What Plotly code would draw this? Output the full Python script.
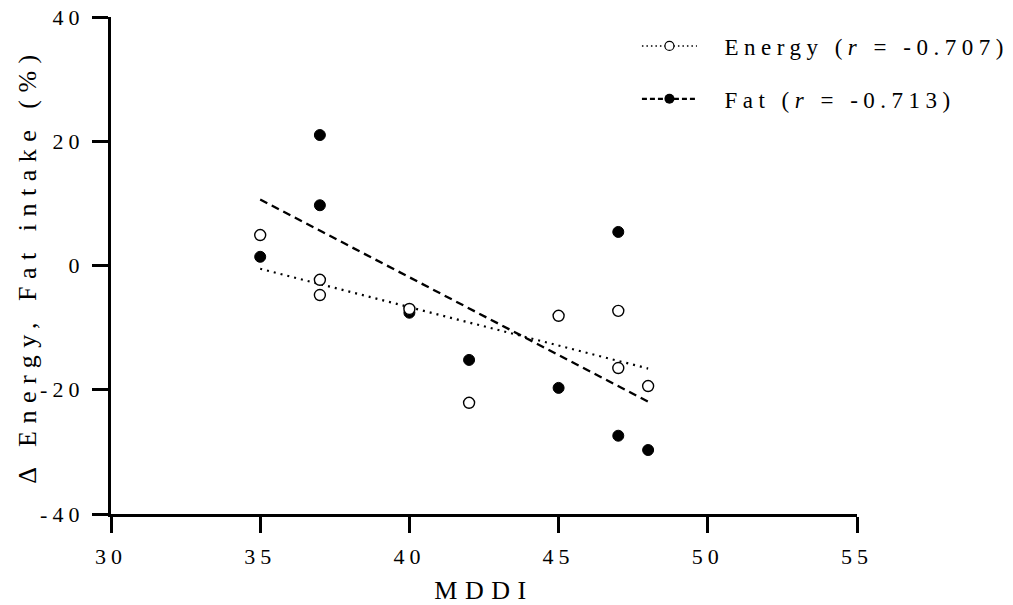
import numpy as np
import plotly.graph_objects as go

# Data
mddi_energy = [35, 37, 37, 40, 42, 45, 47, 47, 48]
energy_change = [4.9, -2.3, -4.75, -7.0, -22.1, -8.1, -7.3, -16.5, -19.4]
mddi_fat = [35, 37, 37, 40, 42, 45, 47, 47, 48]
fat_change = [1.4, 21.0, 9.7, -7.6, -15.2, -19.7, 5.4, -27.4, -29.7]
energy_label = "\u00a0\u00a0Energy (<i>r</i> = -0.707)"
fat_label = "\u00a0\u00a0Fat (<i>r</i> = -0.713)"
x_ticks = [30, 35, 40, 45, 50, 55]
x_tick_text = ["30", "35", "40", "45", "50", "55"]
y_ticks = [-40, -20, 0, 20, 40]
y_tick_text = ["-40", "-20", "0", "20", "40"]

FONT = "Liberation Serif"

def fit_line(x, y):
    x = np.asarray(x, float)
    y = np.asarray(y, float)
    m, b = np.polyfit(x, y, 1)
    xs = np.array([x.min(), x.max()])
    return xs, m * xs + b

fig = go.Figure()

ex, ey = fit_line(mddi_energy, energy_change)
fx, fy = fit_line(mddi_fat, fat_change)

fig.add_trace(go.Scatter(x=ex, y=ey, mode="lines", showlegend=False,
                         line=dict(color="black", width=2.2, dash="2px,5px")))
fig.add_trace(go.Scatter(x=fx, y=fy, mode="lines", showlegend=False,
                         line=dict(color="black", width=2.3, dash="8px,5px")))

fig.add_trace(go.Scatter(x=mddi_fat, y=fat_change, mode="markers", showlegend=False,
                         marker=dict(symbol="circle", size=11, color="black",
                                     line=dict(color="black", width=1))))
fig.add_trace(go.Scatter(x=mddi_energy, y=energy_change, mode="markers", showlegend=False,
                         marker=dict(symbol="circle", size=11, color="white",
                                     line=dict(color="black", width=1.4))))

# legend entries
fig.add_trace(go.Scatter(x=[None], y=[None], mode="lines+markers", name=energy_label,
                         legendgroup="e",
                         line=dict(color="black", width=1.5, dash="1.5px,3px"),
                         marker=dict(symbol="circle", size=9, color="white",
                                     line=dict(color="black", width=1.2))))
fig.add_trace(go.Scatter(x=[None], y=[None], mode="lines+markers", name=fat_label,
                         legendgroup="f",
                         line=dict(color="black", width=2.2, dash="5px,3px"),
                         marker=dict(symbol="circle", size=10, color="black")))

axis_common = dict(showgrid=False, zeroline=False, showline=True, linecolor="black",
                   linewidth=3.3, ticks="outside", ticklen=16, tickwidth=3.3,
                   tickcolor="black", tickfont=dict(family=FONT, size=22, color="black"))

fig.update_layout(
    width=1013, height=605,
    paper_bgcolor="white", plot_bgcolor="white",
    margin=dict(l=111, r=156, t=17, b=91, autoexpand=False),
    font=dict(family=FONT, color="black"),
    xaxis=dict(range=[30, 55], tickvals=x_ticks, ticktext=x_tick_text, **axis_common,
               ticklabelstandoff=4,
               title=dict(text="MDDI", font=dict(family=FONT, size=26), standoff=14)),
    yaxis=dict(range=[-40, 40], tickvals=y_ticks, ticktext=y_tick_text, **axis_common,
               ticklabelstandoff=3,
               title=dict(text="Δ Energy, Fat intake (%)", font=dict(family=FONT, size=26),
                          standoff=12)),
    legend=dict(x=0.705, y=0.985, xanchor="left", yanchor="top", xref="paper", yref="paper",
                font=dict(family=FONT, size=23), tracegroupgap=20,
                bgcolor="rgba(0,0,0,0)", itemwidth=55),
    showlegend=True,
)

post = """
var s = document.createElement('style');
s.textContent = 'html, body {margin:0; padding:0; overflow:hidden;} ' +
  '.xtick text, .ytick text {letter-spacing:5px;} ' +
  '.g-xtitle text, .g-ytitle text {letter-spacing:7.5px;} ' +
  '.legendtext {letter-spacing:5.5px;} ' +
  '.legend .scrollbox, .legend {clip-path:none !important;}';
document.head.appendChild(s);
"""

fig.write_html("out.html", post_script=post, config={"displayModeBar": False})
